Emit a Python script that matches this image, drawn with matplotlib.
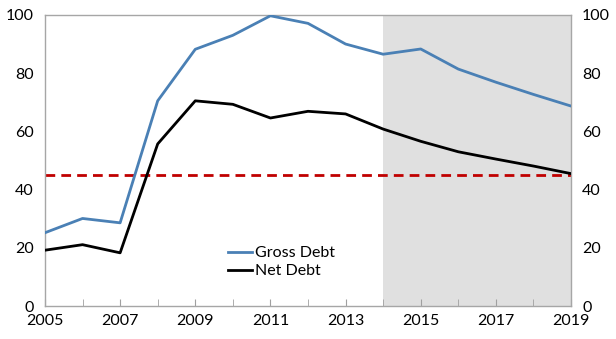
import matplotlib
matplotlib.use("Agg")
import matplotlib.pyplot as plt
from matplotlib.ticker import MultipleLocator

years = list(range(2005, 2020))
gross_debt = [25.2, 30.1, 28.6, 70.5, 88.2, 93.0, 99.7, 97.1, 90.0, 86.5, 88.3, 81.4, 76.9, 72.7, 68.7]
net_debt = [19.2, 21.1, 18.3, 55.7, 70.5, 69.3, 64.6, 66.9, 66.0, 60.8, 56.6, 53.0, 50.5, 48.1, 45.5]
threshold = 45
forecast_start, forecast_end = 2014, 2019
xtick_labels = [2005, 2007, 2009, 2011, 2013, 2015, 2017, 2019]
ytick_labels = [0, 20, 40, 60, 80, 100]

plt.rcParams['font.family'] = ['Lato', 'DejaVu Sans']
fig = plt.figure(figsize=(6.16, 3.39), dpi=100)
ax = fig.add_axes([0.073, 0.097, 0.854, 0.859])

ax.axvspan(forecast_start, forecast_end, color='#e0e0e0', lw=0, zorder=0)
ax.axhline(threshold, color='#c00000', lw=2.0, ls=(0, (3.5, 2.2)), zorder=2)
ax.plot(years, gross_debt, color='#4a80b5', lw=2.0, label='Gross Debt', zorder=3)
ax.plot(years, net_debt, color='black', lw=2.0, label='Net Debt', zorder=3)

ax.set_xlim(2005, 2019)
ax.set_ylim(0, 100)
ax.set_xticks(xtick_labels)
ax.set_xticklabels([str(v) for v in xtick_labels])
ax.xaxis.set_minor_locator(MultipleLocator(1))
ax.set_yticks(ytick_labels)
ax.tick_params(axis='x', which='both', direction='in', length=5, color='#a0a0a0', labelsize=11.5, pad=6)
ax.tick_params(axis='y', which='both', length=0, labelsize=11.5, pad=8)
ax.tick_params(axis='y', labelright=True, right=False)
for s in ax.spines.values():
    s.set_color('#a6a6a6')
    s.set_linewidth(1.0)

ax.legend(loc='center left', bbox_to_anchor=(0.348, 0.151), frameon=False,
          handlelength=1.5, handletextpad=0.2, labelspacing=0.25, borderpad=0,
          borderaxespad=0, fontsize=11.5)

fig.savefig('out.png', dpi=100)
